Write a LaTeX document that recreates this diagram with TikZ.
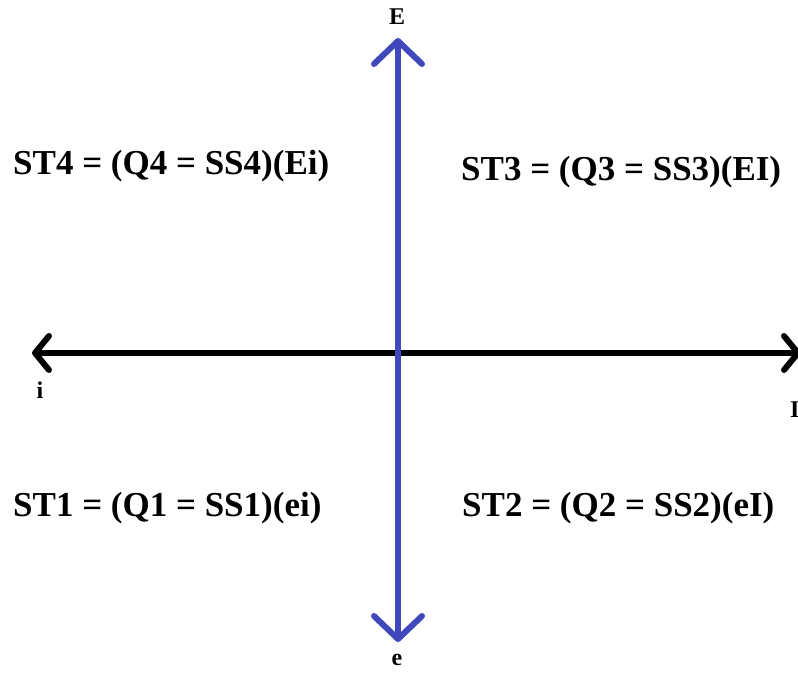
\documentclass[tikz,border=0pt]{standalone}
\usepackage{fontspec}
\setmainfont{Liberation Serif}
\usetikzlibrary{arrows.meta}
\definecolor{axblue}{RGB}{64,72,188}
\tikzset{
  axis/.style={line width=6pt, line cap=round},
  vtip/.tip={Straight Barb[length=23pt,width=48pt,line join=round,line cap=round]},
  htip/.tip={Straight Barb[length=14pt,width=34pt,line join=round,line cap=round]},
  eq/.style={font=\fontsize{35}{40}\selectfont\bfseries, inner sep=0pt, anchor=west},
  lab/.style={font=\fontsize{24}{28}\selectfont\bfseries, inner sep=0pt},
}
\begin{document}
\begin{tikzpicture}[x=1pt,y=-1pt]
\useasboundingbox (0,0) rectangle (798,674);
\coordinate (Etop) at (398,38);
\coordinate (ebot) at (398,642);
\coordinate (ileft) at (32,353);
\coordinate (Iright) at (801,353);
\draw[axis, black, arrows={htip-htip}] (ileft) -- (Iright);
\draw[axis, axblue, arrows={vtip-vtip}] (ebot) -- (Etop);
\node[lab] (lE) at (397,17) {E};
\node[lab] (le) at (397,660) {e};
\node[lab] (li) at (40,390) {i};
\node[lab, anchor=west] (lI) at (790,410) {I};
\node[eq] (st4) at (13,166) {ST4 = (Q4 = SS4)(Ei)};
\node[eq] (st3) at (461,172) {ST3 = (Q3 = SS3)(EI)};
\node[eq] (st1) at (13,508) {ST1 = (Q1 = SS1)(ei)};
\node[eq] (st2) at (462,508) {ST2 = (Q2 = SS2)(eI)};
\end{tikzpicture}
\end{document}
